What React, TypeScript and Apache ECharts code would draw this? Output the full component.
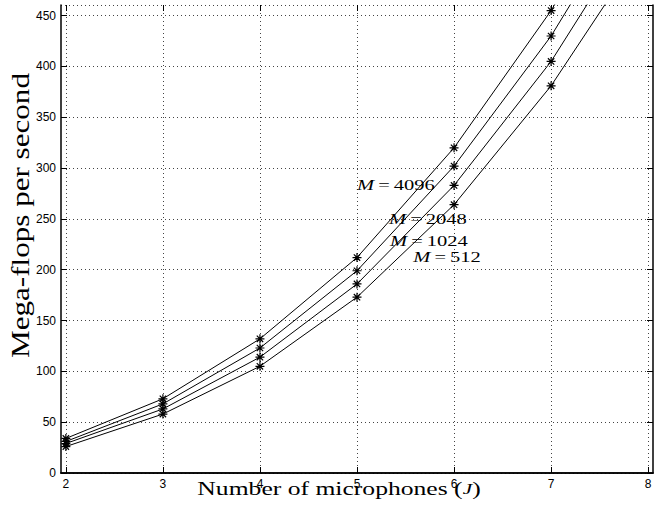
import React, { useEffect, useRef } from "react";
import * as echarts from "echarts";

// ---- data ----
const xValues = [2, 3, 4, 5, 6, 7, 8];
const fftSizes = ["512", "1024", "2048", "4096"];
const m512 = [26, 58, 105, 173, 264, 381, 525];
const m1024 = [29, 63, 114, 186, 283, 405, 556];
const m2048 = [31, 68, 123, 199, 302, 430, 586];
const m4096 = [34, 73, 132, 212, 320, 455, 617];
const seriesValues = [m512, m1024, m2048, m4096];
const annotationX = [5.58, 5.34, 5.33, 5.0];
const annotationY = [212.6, 228, 250, 283.4];
const xAxisTitle = "Number of microphones (";
const xAxisSymbol = "J";
const yAxisTitle = "Mega-flops per second";

const SERIF = "'Liberation Serif', 'Times New Roman', serif";
const SANS = "'Liberation Sans', Arial, sans-serif";

function measure(text: string, font: string): number {
  const ctx = document.createElement("canvas").getContext("2d");
  if (!ctx) return text.length * 8;
  ctx.font = font;
  return ctx.measureText(text).width;
}

const ASTERISK =
  "path://M4,0L4,8M0,4L8,4M1.17,1.17L6.83,6.83M1.17,6.83L6.83,1.17";

export default function App() {
  const ref = useRef<HTMLDivElement>(null);

  useEffect(() => {
    if (!ref.current) return;
    const chart = echarts.init(ref.current, undefined, { renderer: "svg" });

    const xFont = 18;
    const yFont = 25;
    const annFont = 15;
    const xTitleW = measure(xAxisTitle + xAxisSymbol + ")", `${xFont}px ${SERIF}`);
    const xScale = 284 / xTitleW;
    const yTitleW = measure(yAxisTitle, `${yFont}px ${SERIF}`);
    const yScale = 285 / yTitleW;
    const annW = measure("M\u2009=\u20094096", `${annFont}px ${SERIF}`);
    const annScale = 79 / annW;

    const yMax = 460.5;
    const dotted = { type: [1, 3] as any, color: "#444", width: 1 };
    const boxLine = { show: true, lineStyle: { color: "#000", width: 1.5 } };

    const lineSeries = seriesValues.map((vals, i) => ({
      type: "line",
      name: "M=" + fftSizes[i],
      xAxisIndex: 0,
      yAxisIndex: 0,
      data: xValues.map((x, j) => [x, vals[j]]),
      symbol: ASTERISK,
      symbolSize: 9,
      clip: true,
      itemStyle: { color: "#000", borderColor: "#000", borderWidth: 1.2 },
      lineStyle: { color: "#000", width: 1 },
      z: 3,
    }));

    const annSeries = {
      type: "custom",
      xAxisIndex: 0,
      yAxisIndex: 0,
      clip: false,
      data: annotationX.map((x, i) => [x, annotationY[i], i]),
      renderItem: (params: any, api: any) => {
        const p = api.coord([api.value(0), api.value(1)]);
        const idx = api.value(2);
        return {
          type: "text",
          x: p[0],
          y: p[1],
          scaleX: annScale,
          style: {
            text: `{i|M}{n|\u2009=\u2009${fftSizes[idx]}}`,
            fill: "#000",
            align: "left",
            verticalAlign: "middle",
            fontFamily: SERIF,
            fontSize: annFont,
            rich: {
              i: { fontStyle: "italic", fontFamily: SERIF, fontSize: annFont, fill: "#000" },
              n: { fontFamily: SERIF, fontSize: annFont, fill: "#000" },
            },
          },
        };
      },
      z: 4,
    };

    chart.setOption({
      animation: false,
      backgroundColor: "#fff",
      grid: [
        { left: 61, right: 13, top: 5, bottom: 40, outerBoundsMode: "none" },
        { left: 65.9, right: 17.8, top: 5, bottom: 40, outerBoundsMode: "none" },
      ],
      xAxis: [
        {
          type: "value", gridIndex: 0, position: "bottom", min: 1.95, max: 8.05,
          axisLine: boxLine, axisTick: { show: false }, axisLabel: { show: false }, splitLine: { show: false },
        },
        {
          type: "value", gridIndex: 0, position: "top", min: 1.95, max: 8.05,
          axisLine: boxLine, axisTick: { show: false }, axisLabel: { show: false }, splitLine: { show: false },
        },
        {
          type: "value", gridIndex: 1, position: "bottom", min: 2, max: 8, interval: 1,
          axisLine: { show: false },
          axisTick: { show: true, inside: true, length: 6, lineStyle: { color: "#000", width: 1 } },
          axisLabel: { show: true, color: "#000", fontFamily: SANS, fontSize: 12, margin: 5 },
          splitLine: { show: true, lineStyle: dotted },
        },
        {
          type: "value", gridIndex: 1, position: "top", min: 2, max: 8, interval: 1,
          axisLine: { show: false },
          axisTick: { show: true, inside: true, length: 6, lineStyle: { color: "#000", width: 1 } },
          axisLabel: { show: false }, splitLine: { show: false },
        },
      ],
      yAxis: [
        {
          type: "value", gridIndex: 0, position: "left", min: 0, max: yMax, interval: 50,
          axisLine: boxLine,
          axisTick: { show: true, inside: true, length: 6, lineStyle: { color: "#000", width: 1 } },
          axisLabel: { show: true, color: "#000", fontFamily: SANS, fontSize: 12, margin: 5, showMaxLabel: false },
          splitLine: { show: true, lineStyle: dotted },
        },
        {
          type: "value", gridIndex: 0, position: "right", min: 0, max: yMax, interval: 50,
          axisLine: boxLine,
          axisTick: { show: true, inside: true, length: 6, lineStyle: { color: "#000", width: 1 } },
          axisLabel: { show: false }, splitLine: { show: false },
        },
        { type: "value", gridIndex: 1, min: 0, max: yMax, show: false },
      ],
      series: [...lineSeries, annSeries],
      graphic: [
        {
          type: "text",
          x: 339,
          y: 489,
          scaleX: xScale,
          style: {
            text: `{n|${xAxisTitle}}{i|${xAxisSymbol}}{n|)}`,
            align: "center",
            verticalAlign: "middle",
            fontFamily: SERIF,
            fontSize: xFont,
            fill: "#000",
            rich: {
              n: { fontFamily: SERIF, fontSize: xFont, fill: "#000" },
              i: { fontFamily: SERIF, fontSize: xFont - 3, fontStyle: "italic", fill: "#000" },
            },
          },
        },
        {
          type: "text",
          x: 21,
          y: 215.5,
          rotation: Math.PI / 2,
          scaleX: yScale,
          style: {
            text: yAxisTitle,
            align: "center",
            verticalAlign: "middle",
            fontFamily: SERIF,
            fontSize: yFont,
            fill: "#000",
          },
        },
      ],
    });

    return () => chart.dispose();
  }, []);

  return (
    <div
      ref={ref}
      style={{ position: "fixed", left: 0, top: 0, width: 666, height: 513, background: "#fff" }}
    />
  );
}
